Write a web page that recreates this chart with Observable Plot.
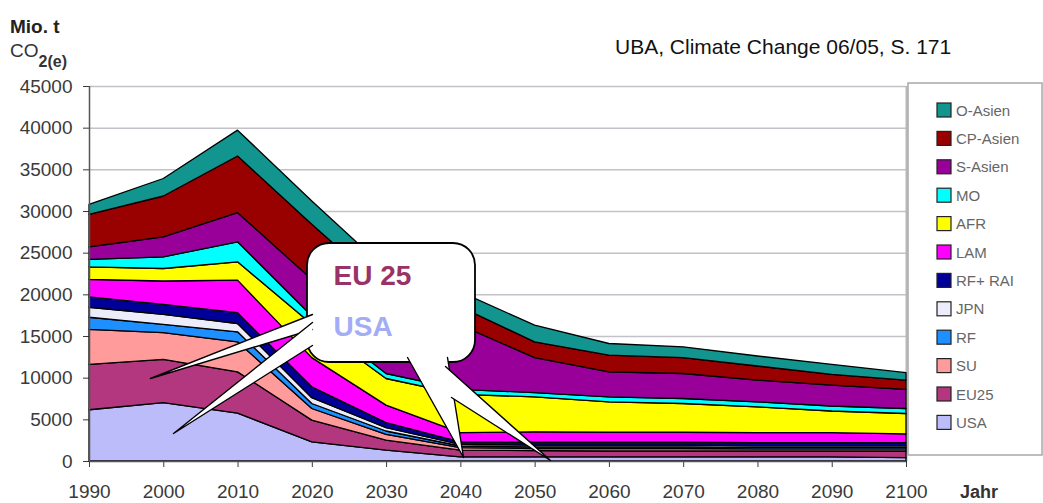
<!DOCTYPE html>
<html><head><meta charset="utf-8">
<script src="https://cdn.jsdelivr.net/npm/d3@7"></script>
<script src="https://cdn.jsdelivr.net/npm/@observablehq/plot@0.6"></script>
<style>
body{margin:0;background:#fff;font-family:"Liberation Sans",Arial,sans-serif;}
#wrap{position:relative;width:1043px;height:503px;overflow:hidden;background:#fff;}
#wrap svg{position:absolute;left:0;top:0;}
</style></head><body><div id="wrap"></div>
<script>
// ---- data (Mio. t CO2(e)) ----
const years = [1990, 2000, 2010, 2020, 2030, 2040, 2050, 2060, 2070, 2080, 2090, 2100];
const yTicks = [0, 5000, 10000, 15000, 20000, 25000, 30000, 35000, 40000, 45000];
const seriesNames = ["USA", "EU25", "SU", "RF", "JPN", "RF+ RAI", "LAM", "AFR", "MO", "S-Asien", "CP-Asien", "O-Asien"];
const seriesColors = ["#bcbcfa", "#b2377e", "#ff9b9b", "#1e8fff", "#ececfa", "#000099", "#ff00ff", "#ffff00", "#00ffff", "#990099", "#990000", "#12958f"];
const usa     = [6150, 7000, 5750, 2300, 1300, 500, 500, 500, 500, 500, 500, 400];
const eu25    = [5450, 5200, 4950, 2600, 1200, 800, 750, 700, 700, 700, 700, 800];
const su      = [4200, 3200, 3600, 1400, 700, 300, 250, 300, 300, 250, 250, 250];
const rf      = [1450, 1000, 1200, 600, 400, 200, 200, 200, 200, 200, 200, 200];
const jpn     = [1200, 1200, 1000, 700, 400, 200, 200, 200, 200, 200, 200, 200];
const rfRai   = [1250, 1200, 1300, 1300, 600, 300, 350, 350, 350, 350, 350, 350];
const lam     = [2100, 2800, 3900, 3500, 2100, 1100, 1250, 1200, 1200, 1200, 1200, 1050];
const afr     = [1500, 1500, 2200, 4000, 3200, 4600, 4200, 3650, 3450, 3100, 2600, 2450];
const mo      = [900, 1400, 2400, 1000, 600, 600, 500, 600, 600, 600, 600, 600];
const sAsien  = [1500, 2400, 3500, 4400, 4500, 7700, 4200, 3000, 3000, 2600, 2500, 2300];
const cpAsien = [3900, 4900, 6800, 6600, 5500, 2200, 1900, 2000, 1900, 1700, 1300, 1100];
const oAsien  = [1200, 2100, 3100, 2800, 2500, 1800, 2000, 1400, 1300, 1200, 1200, 900];
const seriesValues = [usa, eu25, su, rf, jpn, rfRai, lam, afr, mo, sAsien, cpAsien, oAsien];

// annotation (speech bubble) in data units
const bubble = [{x1: 2019.35, x2: 2041.97, y1: 11880, y2: 26160}];
const wedges = [
  {id: "A", pts: [[2032.82, 12480], [2040.36, 480], [2038.20, 12480]]},
  {id: "B", pts: [[2037.93, 11400], [2052.07, 120], [2038.74, 7680]]},
  {id: "W1", pts: [[2020.02, 17640], [1998.21, 9960], [2020.02, 15840]]},
  {id: "W2", pts: [[2020.02, 16680], [2001.31, 3360], [2020.02, 13920]]}
];
const bubbleTexts = [
  {x: 2022.85, y: 22300, text: "EU 25", color: "#993366"},
  {x: 2022.85, y: 16100, text: "USA", color: "#a3acf6"}
];

// ---- build rows ----
const rows = [];
years.forEach((yr, i) => {
  seriesNames.forEach((s, j) => rows.push({year: yr, series: s, value: seriesValues[j][i]}));
});
const wedgeRows = wedges.flatMap(w => w.pts.map(p => ({id: w.id, year: p[0], value: p[1]})));

const plot = Plot.plot({
  width: 1043, height: 503,
  marginLeft: 89, marginRight: 137, marginTop: 86, marginBottom: 42,
  x: {domain: [1990, 2100], ticks: years, tickFormat: d => String(d), tickSize: 6, tickPadding: 17, label: null},
  y: {domain: [0, 45000], ticks: yTicks, tickFormat: d => String(d), tickSize: 6, tickPadding: 11, label: null},
  color: {domain: seriesNames, range: seriesColors},
  style: {fontFamily: "Liberation Sans, Arial, sans-serif", fontSize: "19px", color: "#3a3a3a", background: "transparent", overflow: "visible"},
  marks: [
    Plot.ruleY(yTicks.filter(d => d > 0), {stroke: "#c2c2c8", strokeWidth: 1.5}),
    Plot.ruleX([2100], {stroke: "#b8b8b8", strokeWidth: 2}),
    Plot.areaY(rows, {x: "year", y: "value", z: "series", fill: "series", order: seriesNames, stroke: "#000", strokeWidth: 1.3, strokeLinejoin: "round"}),
    Plot.ruleX([1990], {stroke: "#555", strokeWidth: 1.5}),
    Plot.ruleY([0], {stroke: "#555", strokeWidth: 1.5}),
    Plot.rect(bubble, {x1: "x1", x2: "x2", y1: "y1", y2: "y2", fill: "white", stroke: "black", strokeWidth: 1.8, rx: 22}),
    Plot.line(wedgeRows, {x: "year", y: "value", z: "id", fill: "white", stroke: "black", strokeWidth: 1.4, curve: "linear"}),
    Plot.text(bubbleTexts, {x: "x", y: "y", text: "text", fill: "color", fontSize: 28, fontWeight: "bold", textAnchor: "start", fontFamily: "Liberation Sans, Arial, sans-serif"})
  ]
});
const wrap = document.getElementById("wrap");
wrap.appendChild(plot);

// ---- overlay: titles & legend ----
const ns = "http://www.w3.org/2000/svg";
const ov = d3.select(wrap).append("svg").attr("width", 1043).attr("height", 503)
  .style("font-family", "Liberation Sans, Arial, sans-serif").style("pointer-events", "none");
ov.append("text").attr("x", 10).attr("y", 33).attr("font-size", 19).attr("font-weight", "bold").attr("fill", "#222").text("Mio. t");
const co = ov.append("text").attr("x", 10).attr("y", 57).attr("font-size", 19).attr("fill", "#333");
co.append("tspan").text("CO");
co.append("tspan").attr("font-size", 16).attr("font-weight", "bold").attr("dy", 10).text("2(e)");
ov.append("text").attr("x", 615).attr("y", 54).attr("font-size", 21).attr("fill", "#111").text("UBA, Climate Change 06/05, S. 171");
ov.append("text").attr("x", 960).attr("y", 498).attr("font-size", 18).attr("font-weight", "bold").attr("fill", "#333").text("Jahr");

const lg = ov.append("g");
lg.append("rect").attr("x", 908).attr("y", 83).attr("width", 134).attr("height", 372)
  .attr("fill", "white").attr("stroke", "#a8a8a8").attr("stroke-width", 1.5);
const legendOrder = seriesNames.slice().reverse();
legendOrder.forEach((s, i) => {
  const cy = 110 + i * 28.4;
  lg.append("rect").attr("x", 937).attr("y", cy - 7).attr("width", 14).attr("height", 14)
    .attr("fill", seriesColors[seriesNames.indexOf(s)]).attr("stroke", "#222").attr("stroke-width", 1.2);
  lg.append("text").attr("x", 956).attr("y", cy + 5.5).attr("font-size", 15).attr("fill", "#666").text(s);
});
</script></body></html>
